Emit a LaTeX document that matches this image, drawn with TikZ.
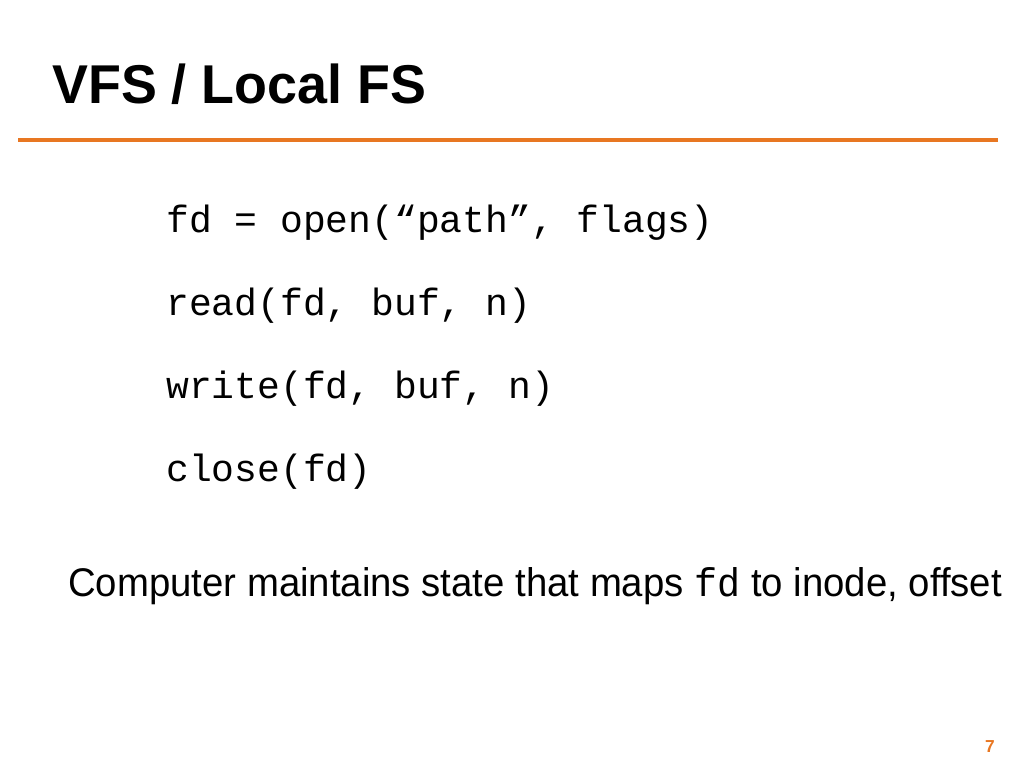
\documentclass[tikz,border=0pt]{standalone}
\usepackage{fontspec}
\setmainfont{Liberation Sans}
\setmonofont{Liberation Mono}
\definecolor{org}{HTML}{E87722}
\begin{document}
\begin{tikzpicture}[x=0.75pt,y=-0.75pt,
  code/.style={anchor=base west,inner sep=0,font=\fontsize{28.5}{30}\selectfont\ttfamily}]
\useasboundingbox (0,0) rectangle (1024,768);
\node[anchor=base west,inner sep=0,font=\fontsize{41}{46}\selectfont\bfseries] (title) at (52,103) {\scalebox{0.985}[1]{VFS / Local FS}};
\draw[org,line width=2.4pt] (18,140) -- (998,140);
\node[code] (l1) at (166,232) {fd = open(“path”, flags)};
\node[code] (l2) at (166,315) {read(fd, buf, n)};
\node[code] (l3) at (166,398) {write(fd, buf, n)};
\node[code] (l4) at (166,481) {close(fd)};
\node[anchor=base west,inner sep=0,font=\fontsize{30}{34}\selectfont] (b) at (68,596) {\scalebox{0.958}[1]{Computer maintains state that maps {\ttfamily fd} to inode, offset}};
\node[anchor=base east,inner sep=0,font=\fontsize{13}{15}\selectfont\bfseries,text=org] (pg) at (995,752) {7};
\end{tikzpicture}
\end{document}
